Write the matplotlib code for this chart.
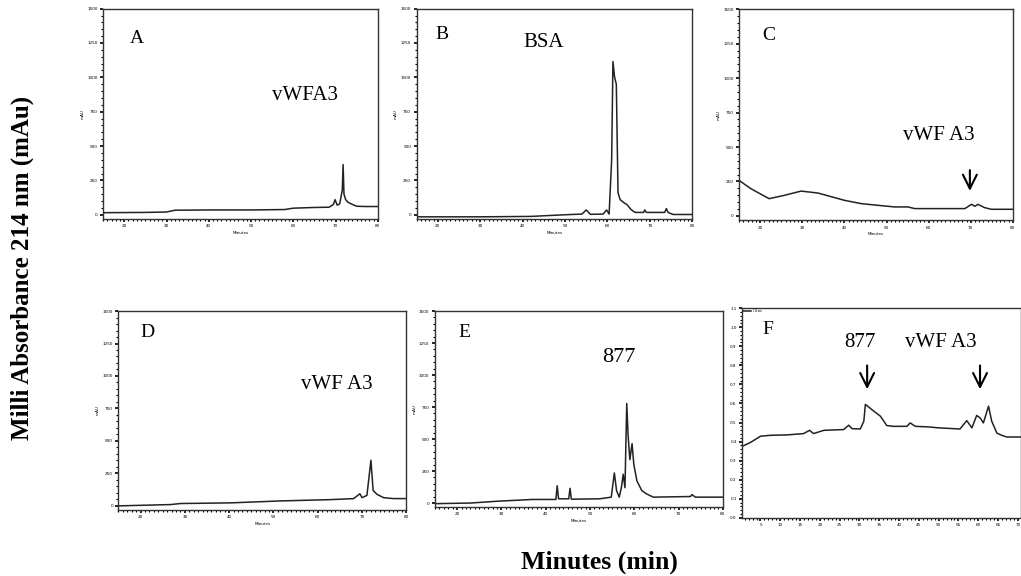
import matplotlib
matplotlib.use("Agg")
import matplotlib.pyplot as plt
from matplotlib.ticker import MultipleLocator

plt.rcParams['font.family'] = ['Liberation Serif', 'DejaVu Serif']

# --- data (minutes, mAu) ---
a_t = [15, 20, 25, 30, 32, 40, 50, 58, 60, 65, 68.5, 69.5, 69.9, 70.4, 71.0, 71.6, 71.8, 72.0, 72.4, 73.0, 74.0, 75.0, 77.0, 80.0]
a_y = [15, 16, 17, 20, 33, 35, 35, 38, 48, 53, 55, 75, 110, 70, 80, 180, 365, 150, 110, 90, 75, 62, 60, 60]

b_t = [15, 30, 42, 50, 54, 55, 56, 59, 59.8, 60.4, 61.0, 61.3, 61.7, 62.1, 62.5, 63.0, 64.0, 64.6, 65.5, 66.5, 68.5, 68.8, 69.2, 73.5, 73.9, 74.3, 75.5, 80]
b_y = [-15, -15, -12, 0, 5, 35, 3, 5, 35, 5, 400, 1115, 1000, 950, 160, 110, 85, 75, 40, 17, 17, 35, 17, 17, 45, 17, 2, 2]

c_t = [15, 17.8, 22.1, 25.7, 29.7, 33.7, 40, 44, 47.9, 51.9, 55.1, 56.7, 63.8, 68.6, 70.2, 71.0, 71.7, 73.3, 74.9, 80]
c_y = [257, 197, 125, 149, 180, 166, 113, 89, 77, 65, 65, 53, 53, 53, 84, 70, 84, 60, 48, 48]

d_t = [15.1, 26.8, 29, 40.3, 51.6, 62.9, 68.1, 69.5, 70, 71.1, 72, 72.5, 73.4, 74.9, 77.1, 80]
d_y = [0, 10, 18, 23, 38, 48, 56, 93, 63, 81, 351, 119, 88, 63, 56, 56]

e_t = [15, 23.0, 29.5, 37, 42.3, 42.6, 42.9, 45.2, 45.5, 45.8, 52.2, 54.8, 55.5, 56, 56.6, 57.1, 57.5, 57.9,
       58.3, 58.6, 59.0, 59.5, 59.9, 60.6, 61.7, 62.8, 64.3, 72.7, 73, 73.8, 80]
e_y = [-5, 0, 15, 28, 28, 135, 33, 33, 115, 30, 33, 46, 235, 97, 46, 122, 225, 120,
       778, 530, 339, 464, 301, 173, 97, 71, 46, 51, 66, 46, 46]

f_t = [0.4, 2.5, 5.0, 7.5, 11.7, 15.9, 17.4, 18.4, 21.0, 26.0, 27.3, 28.1, 30.2, 31.1, 31.5, 33.6, 35.3, 36.9,
       38.6, 42.0, 42.8, 44.1, 47.4, 50.0, 55.4, 57.1, 58.4, 59.6, 60.5, 61.3, 62.6, 63.4, 64.7, 65.9, 67.2, 70.8]
f_y = [0.375, 0.396, 0.428, 0.433, 0.435, 0.442, 0.459, 0.442, 0.459, 0.463, 0.486, 0.468, 0.466, 0.507, 0.595, 0.560, 0.533, 0.484,
       0.480, 0.480, 0.498, 0.480, 0.477, 0.472, 0.466, 0.510, 0.472, 0.537, 0.524, 0.498, 0.586, 0.507, 0.445, 0.433, 0.424, 0.424]

# panel letters
letters = ['A', 'B', 'C', 'D', 'E', 'F']


def style_axes(ax, xmaj, xmin, ymaj, ymin):
    for s in ax.spines.values():
        s.set_color('#333333')
        s.set_linewidth(1.0)
    ax.xaxis.set_major_locator(MultipleLocator(xmaj))
    ax.xaxis.set_minor_locator(MultipleLocator(xmin))
    ax.yaxis.set_major_locator(MultipleLocator(ymaj))
    ax.yaxis.set_minor_locator(MultipleLocator(ymin))
    ax.tick_params(which='major', length=2.5, width=1.2, labelsize=3, pad=1.5)
    ax.tick_params(which='minor', length=1.5, width=0.8)
    ax.tick_params(top=False, right=False)
    for lab in ax.get_xticklabels() + ax.get_yticklabels():
        lab.set_family('DejaVu Sans')


def arrow(ax, x, y0, y1):
    ax.annotate('', xy=(x, y1), xytext=(x, y0), xycoords='axes fraction',
                arrowprops=dict(arrowstyle='->,head_length=1.0,head_width=0.5', lw=1.5, color='black'))


fig = plt.figure(figsize=(10.21, 5.76), dpi=100)

boxes = [
    [0.101, 0.620, 0.269, 0.365],
    [0.408, 0.620, 0.270, 0.365],
    [0.724, 0.618, 0.268, 0.366],
    [0.116, 0.115, 0.282, 0.345],
    [0.426, 0.120, 0.282, 0.340],
    [0.727, 0.101, 0.273, 0.364],
]
series = [(a_t, a_y), (b_t, b_y), (c_t, c_y), (d_t, d_y), (e_t, e_y), (f_t, f_y)]

axes = []
for i, (box, (t, y)) in enumerate(zip(boxes, series)):
    ax = fig.add_axes(box)
    if i < 5:
        ax.plot(t, y, color='#222222', lw=1.1, label='run')
        ax.set_xlim(15, 80)
        ax.set_ylim(-30, 1500)
        style_axes(ax, 10, 1, 250, 50)
        ax.set_xlabel('Minutes', fontsize=3, family='DejaVu Sans', labelpad=2)
        ax.set_ylabel('mAU', fontsize=3, family='DejaVu Sans', labelpad=2)
    else:
        ax.plot(t, y, color='#222222', lw=1.1, label='214 nm')
        ax.set_xlim(0.4, 70.8)
        ax.set_ylim(0, 1.1)
        style_axes(ax, 5, 1, 0.1, 0.02)
        ax.legend(loc='upper left', fontsize=2, frameon=False, handlelength=3,
                  borderaxespad=0.1, borderpad=0.1)
    axes.append(ax)

let_pos = [(0.098, 0.857), (0.069, 0.876), (0.084, 0.877), (0.076, 0.894), (0.080, 0.888), (0.072, 0.900)]
for ax, l, (x, y) in zip(axes, letters, let_pos):
    ax.text(x, y, l, transform=ax.transAxes, fontsize=14, ha='left', va='center')

# peak names
axes[0].text(0.615, 0.586, 'vWFA3', transform=axes[0].transAxes, fontsize=15, va='center')
axes[1].text(0.388, 0.838, 'BSA', transform=axes[1].transAxes, fontsize=15, va='center')
axes[2].text(0.600, 0.403, 'vWF A3', transform=axes[2].transAxes, fontsize=15, va='center')
arrow(axes[2], 0.843, 0.250, 0.125)
axes[3].text(0.635, 0.628, 'vWF A3', transform=axes[3].transAxes, fontsize=15, va='center')
axes[4].text(0.580, 0.765, '877', transform=axes[4].transAxes, fontsize=16, va='center')
axes[5].text(0.365, 0.838, '877', transform=axes[5].transAxes, fontsize=15, va='center')
axes[5].text(0.585, 0.838, 'vWF A3', transform=axes[5].transAxes, fontsize=15, va='center')
arrow(axes[5], 0.448, 0.740, 0.600)
arrow(axes[5], 0.853, 0.740, 0.600)

# shared axis titles
fig.text(0.022, 0.535, 'Milli Absorbance 214 nm (mAu)', rotation=90, fontsize=18,
         fontweight='bold', ha='center', va='center')
fig.text(0.587, 0.024, 'Minutes (min)', fontsize=18.5, fontweight='bold', ha='center', va='center')

fig.savefig('out.png', dpi=100)
